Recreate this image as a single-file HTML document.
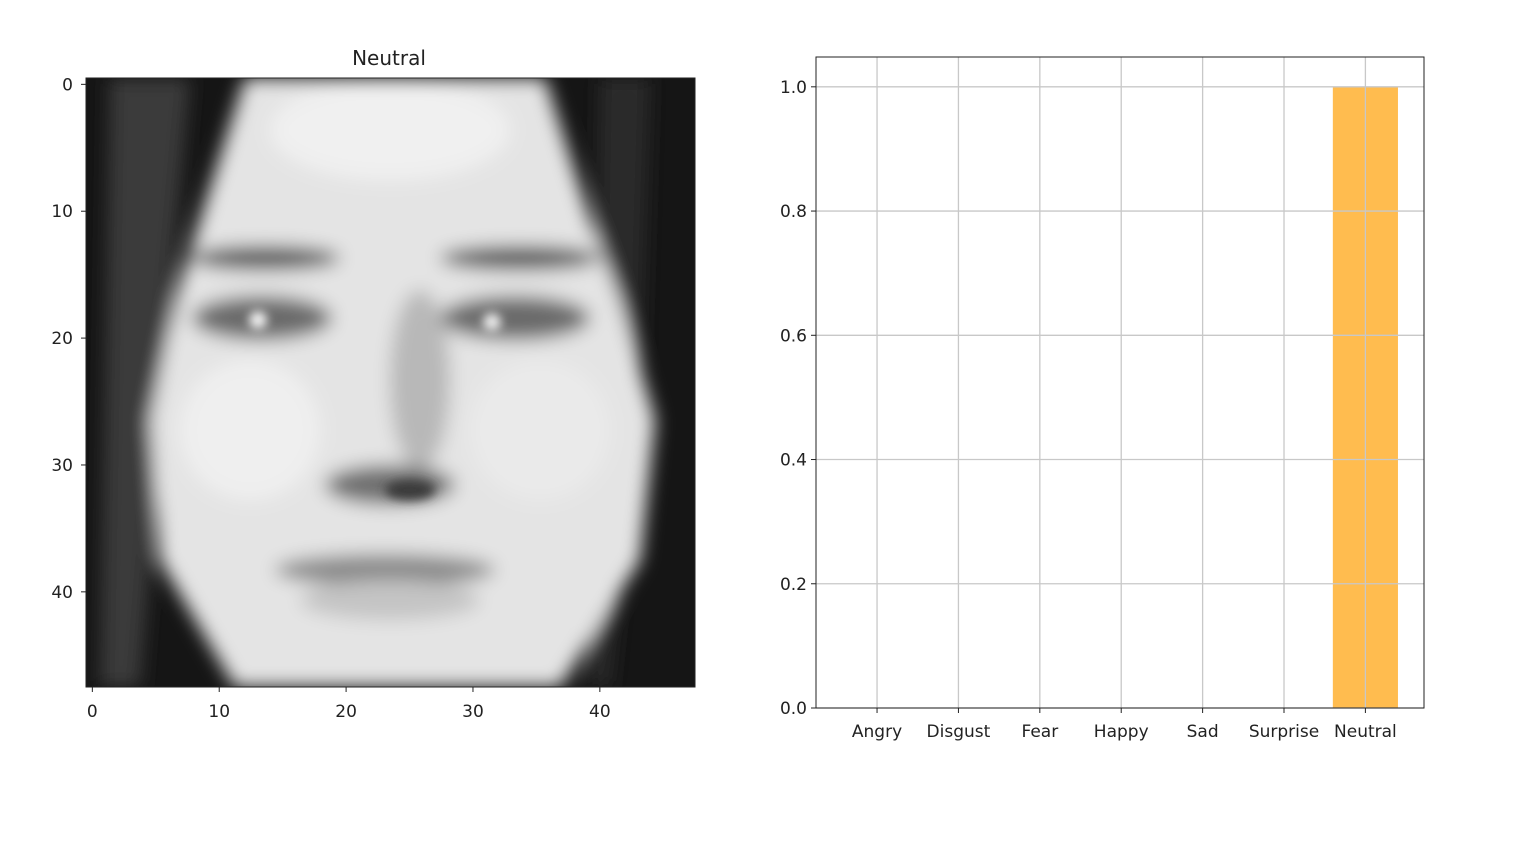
<!DOCTYPE html>
<html><head><meta charset="utf-8"><style>
body{margin:0;background:#fff;width:1536px;height:852px;overflow:hidden;font-family:"Liberation Sans","DejaVu Sans",sans-serif}
svg text{font-family:"DejaVu Sans","Liberation Sans",sans-serif;font-size:17px;fill:#222}
</style></head><body>
<svg id="fig" width="1536" height="852">
<defs>
<filter id="bl"><feGaussianBlur stdDeviation="9"/></filter>
<filter id="bl2"><feGaussianBlur stdDeviation="5"/></filter>
<clipPath id="imgclip"><rect x="86" y="78" width="609" height="609"/></clipPath>
</defs>
<g clip-path="url(#imgclip)">
<rect x="86" y="78" width="609" height="609" fill="#151515"/>
<g filter="url(#bl)">
<path d="M110,78 L190,78 L170,300 L140,687 L100,687 Z" fill="#3a3a3a"/>
<path d="M600,78 L650,78 L640,400 L610,687 L590,687 Z" fill="#2a2a2a"/>
<path d="M245,78 L545,78 L590,220 L620,300 L655,420 L640,560 L560,687 L235,687 L160,560 L150,420 L175,300 L200,220 Z" fill="#e4e4e4"/>
<ellipse cx="390" cy="130" rx="120" ry="50" fill="#f0f0f0"/>
<ellipse cx="265" cy="258" rx="75" ry="12" fill="#555"/>
<ellipse cx="520" cy="258" rx="80" ry="12" fill="#555"/>
<ellipse cx="262" cy="318" rx="70" ry="22" fill="#6a6a6a"/>
<ellipse cx="515" cy="318" rx="75" ry="22" fill="#6a6a6a"/>
<ellipse cx="420" cy="380" rx="30" ry="90" fill="#b8b8b8"/>
<ellipse cx="390" cy="485" rx="65" ry="20" fill="#707070"/>
<ellipse cx="385" cy="570" rx="110" ry="16" fill="#8a8a8a"/>
<ellipse cx="390" cy="600" rx="90" ry="20" fill="#c4c4c4"/>
<ellipse cx="250" cy="430" rx="70" ry="70" fill="#efefef"/>
<ellipse cx="540" cy="430" rx="70" ry="70" fill="#eaeaea"/>
</g>
<g filter="url(#bl2)">
<circle cx="258" cy="320" r="9" fill="#f4f4f4"/>
<circle cx="492" cy="322" r="9" fill="#eeeeee"/>
<ellipse cx="410" cy="490" rx="25" ry="10" fill="#3a3a3a"/>
</g>
</g>
<rect x="86" y="78" width="609" height="609" fill="none" stroke="#222" stroke-width="1"/>
<text x="389" y="65" text-anchor="middle" style="font-size:20px">Neutral</text>
<g id="imgticks"></g>
<g id="chart"></g>
</svg>
<script>
const categories=["Angry","Disgust","Fear","Happy","Sad","Surprise","Neutral"];
const probs=[0,0,0,0,0,0,1.0];
const yTicks=[0.0,0.2,0.4,0.6,0.8,1.0];
const imgTicks=[0,10,20,30,40];
const NS="http://www.w3.org/2000/svg";
function mk(p,t,a){const e=document.createElementNS(NS,t);for(const k in a)e.setAttribute(k,a[k]);p.appendChild(e);return e;}
const it=document.getElementById('imgticks');
const px=v=>86+(v+0.5)*609/48;
imgTicks.forEach(v=>{
 const x=px(v);
 const l=mk(it,'line',{x1:x,x2:x,y1:687,y2:692,stroke:'#222'});
 
 
 const t=mk(it,'text',{x:x,y:717,'text-anchor':'middle'});t.textContent=v;
 
 
 const l2=mk(it,'line',{x1:81,x2:86,y1:px(v)-86+78,y2:px(v)-86+78,stroke:'#222'});
 
 
 const t2=mk(it,'text',{x:73,y:px(v)-86+78+6,'text-anchor':'end'});t2.textContent=v;
 
 
});
const g=document.getElementById('chart');
const L=816,R=1424,T=57,B=708;
const xmin=-0.75,xmax=6.72,ymax=1.048;
const xs=i=>L+(i-xmin)/(xmax-xmin)*(R-L);
const ys=v=>B-v/ymax*(B-T);
categories.forEach((c,i)=>{
 const b=mk(g,'rect',{x:xs(i-0.4),y:ys(probs[i]),width:xs(i+0.4)-xs(i-0.4),height:B-ys(probs[i]),fill:'#ffbc4f'});
 
 
});
yTicks.forEach(v=>{
 const y=ys(v);
 const gl=mk(g,'line',{x1:L,x2:R,y1:y,y2:y,stroke:'#c8c8c8','stroke-width':1.3});
 
 
 mk(g,'line',{x1:L-5,x2:L,y1:y,y2:y,stroke:'#222'});
 const t=mk(g,'text',{x:L-9,y:y+6,'text-anchor':'end'});t.textContent=v.toFixed(1);
 
 
});
categories.forEach((c,i)=>{
 const x=xs(i);
 const gl=mk(g,'line',{x1:x,x2:x,y1:T,y2:B,stroke:'#c8c8c8','stroke-width':1.3});
 
 
 mk(g,'line',{x1:x,x2:x,y1:B,y2:B+5,stroke:'#222'});
 const t=mk(g,'text',{x:x,y:737,'text-anchor':'middle'});t.textContent=c;
 
 
});
const f=mk(g,'rect',{x:L,y:T,width:R-L,height:B-T,fill:'none',stroke:'#222'});


</script>
</body></html>
